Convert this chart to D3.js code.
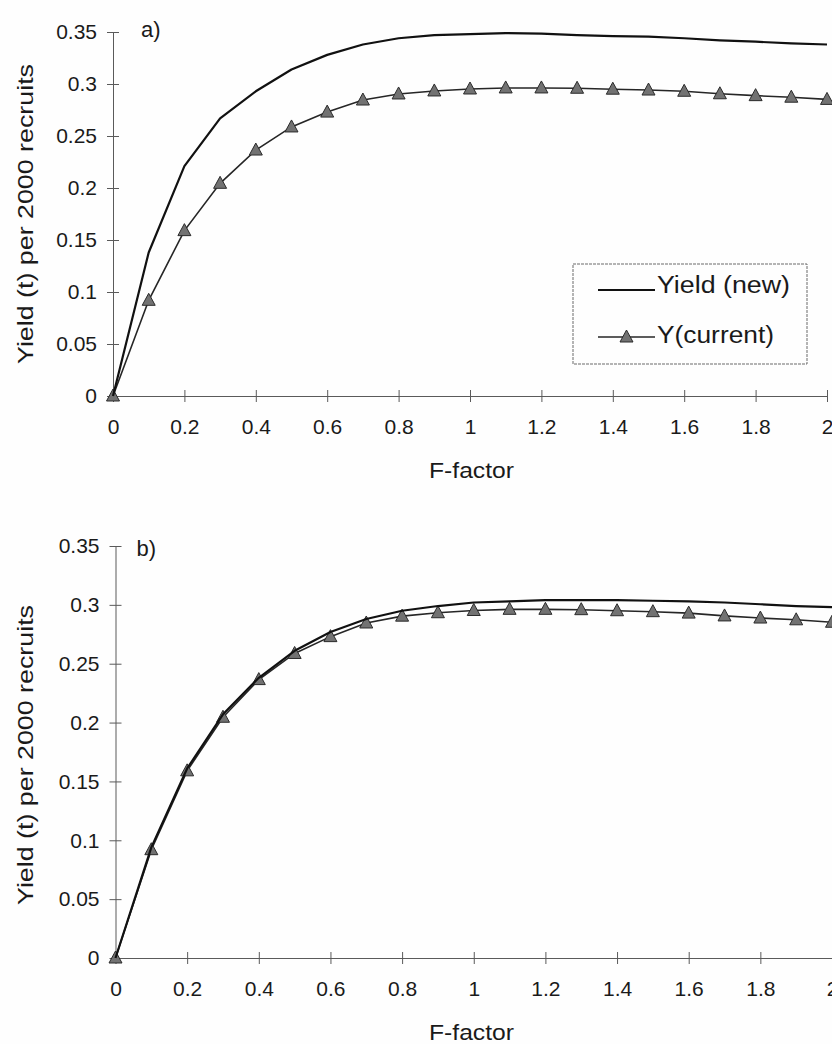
<!DOCTYPE html>
<html>
<head>
<meta charset="utf-8">
<script src="https://cdn.jsdelivr.net/npm/d3@7"></script>
<style>
  html, body { margin: 0; padding: 0; background: #fff; }
  svg { display: block; }
  text { font-family: "Liberation Sans", Arial, Helvetica, sans-serif; fill: #1a1a1a; }
</style>
</head>
<body>
<div id="chart"></div>
<script>
// F-factor values (0 to 2 in steps of 0.1)
const fFactor = [0, 0.1, 0.2, 0.3, 0.4, 0.5, 0.6, 0.7, 0.8, 0.9, 1.0,
                 1.1, 1.2, 1.3, 1.4, 1.5, 1.6, 1.7, 1.8, 1.9, 2.0];

// Yield (t) per 2000 recruits, current exploitation pattern
const yieldCurrent = [0, 0.092, 0.159, 0.2045, 0.2365, 0.2587, 0.273, 0.2846, 0.2904, 0.2933, 0.2952,
                      0.2962, 0.2962, 0.2959, 0.295, 0.2942, 0.293, 0.2906, 0.2888, 0.2873, 0.2852];

// Yield (t) per 2000 recruits, new exploitation pattern, panel a)
const yieldNewA = [0, 0.138, 0.221, 0.267, 0.293, 0.314, 0.328, 0.338, 0.344, 0.347, 0.348,
                   0.349, 0.3485, 0.347, 0.346, 0.3455, 0.344, 0.342, 0.3407, 0.339, 0.338];

// Yield (t) per 2000 recruits, new exploitation pattern, panel b)
const yieldNewB = [0, 0.094, 0.161, 0.207, 0.238, 0.261, 0.277, 0.288, 0.295, 0.299, 0.302,
                   0.303, 0.304, 0.304, 0.304, 0.3035, 0.303, 0.302, 0.3005, 0.299, 0.298];

const yTicks = [0, 0.05, 0.1, 0.15, 0.2, 0.25, 0.3, 0.35];
const xTicks = [0, 0.2, 0.4, 0.6, 0.8, 1, 1.2, 1.4, 1.6, 1.8, 2];

const panelLabels = ["a)", "b)"];
const legendLabels = ["Yield (new)", "Y(current)"];
const xTitle = "F-factor";
const yTitle = "Yield (t) per 2000 recruits";

const W = 832, H = 1044;
const svg = d3.select("#chart").append("svg").attr("width", W).attr("height", H);
svg.append("rect").attr("width", W).attr("height", H).attr("fill", "#fefefe");

const fmt = d => String(+d.toFixed(2));
const axisColor = "#5a5a5a";

// triangle marker centred on the data point
const tri = "M0,-7L6.5,5L-6.5,5Z";

const panels = [
  { newYield: yieldNewA, label: panelLabels[0], x0: 113, x1: 827, yBottom: 396, yTop: 32,
    titleY: 214, xTitleY: 478, labelPos: [141, 37], legend: true },
  { newYield: yieldNewB, label: panelLabels[1], x0: 115.5, x1: 832, yBottom: 958, yTop: 546,
    titleY: 755, xTitleY: 1040, labelPos: [136.5, 556], legend: false }
];

panels.forEach(p => {
  const x = d3.scaleLinear().domain([0, 2]).range([p.x0, p.x1]);
  const y = d3.scaleLinear().domain([0, 0.35]).range([p.yBottom, p.yTop]);
  const g = svg.append("g");

  // y axis with crossing ticks
  const ya = g.append("g").attr("transform", `translate(${p.x0},0)`)
    .call(d3.axisLeft(y).tickValues(yTicks).tickFormat(fmt)
      .tickSizeInner(6).tickSizeOuter(0).tickPadding(10));
  ya.selectAll(".tick line").attr("x1", 6);

  // x axis with crossing ticks
  const xa = g.append("g").attr("transform", `translate(0,${p.yBottom})`)
    .call(d3.axisBottom(x).tickValues(xTicks).tickFormat(fmt)
      .tickSizeInner(6).tickSizeOuter(0).tickPadding(17));
  xa.selectAll(".tick line").attr("y1", -6);

  [ya, xa].forEach(a => {
    a.select(".domain").attr("stroke", axisColor).attr("stroke-width", 1);
    a.selectAll(".tick line").attr("stroke", axisColor).attr("stroke-width", 1);
    a.selectAll(".tick text").attr("font-size", 21)
      .attr("font-family", "'Liberation Sans', Arial, sans-serif").attr("fill", "#1a1a1a");
  });

  // axis titles
  g.append("text")
    .attr("transform", `translate(33,${p.titleY}) rotate(-90)`)
    .attr("text-anchor", "middle").attr("font-size", 22)
    .attr("textLength", 300).attr("lengthAdjust", "spacingAndGlyphs")
    .text(yTitle);
  g.append("text")
    .attr("x", 429).attr("y", p.xTitleY).attr("font-size", 22)
    .attr("textLength", 85).attr("lengthAdjust", "spacingAndGlyphs")
    .text(xTitle);

  // panel label
  g.append("text").attr("x", p.labelPos[0]).attr("y", p.labelPos[1])
    .attr("font-size", 22).text(p.label);

  const line = d3.line().x((d, i) => x(fFactor[i])).y(d => y(d));

  // current-pattern series: line plus triangle markers
  g.append("path").datum(yieldCurrent).attr("d", line)
    .attr("fill", "none").attr("stroke", "#262626").attr("stroke-width", 1.6);
  g.selectAll(".mk").data(yieldCurrent).join("path").attr("class", "mk")
    .attr("transform", (d, i) => `translate(${x(fFactor[i])},${y(d)})`)
    .attr("d", tri).attr("fill", "#727272").attr("stroke", "#2b2b2b").attr("stroke-width", 1);

  // new-pattern series: plain line
  g.append("path").datum(p.newYield).attr("d", line)
    .attr("fill", "none").attr("stroke", "#111").attr("stroke-width", 2.2)
    .attr("stroke-linejoin", "round");

  if (p.legend) {
    const lg = g.append("g");
    lg.append("rect").attr("x", 573).attr("y", 264).attr("width", 234).attr("height", 100)
      .attr("fill", "#fefefe").attr("stroke", "#6a6a6a").attr("stroke-width", 1)
      .attr("stroke-dasharray", "3,1");
    lg.append("line").attr("x1", 598).attr("x2", 655).attr("y1", 290).attr("y2", 290)
      .attr("stroke", "#111").attr("stroke-width", 2.2);
    lg.append("text").attr("x", 657).attr("y", 293).attr("font-size", 23)
      .attr("textLength", 133).attr("lengthAdjust", "spacingAndGlyphs").text(legendLabels[0]);
    lg.append("line").attr("x1", 598).attr("x2", 655).attr("y1", 337).attr("y2", 337)
      .attr("stroke", "#262626").attr("stroke-width", 1.6);
    lg.append("path").attr("transform", "translate(626.5,337)").attr("d", tri)
      .attr("fill", "#727272").attr("stroke", "#2b2b2b").attr("stroke-width", 1);
    lg.append("text").attr("x", 657).attr("y", 343).attr("font-size", 23)
      .attr("textLength", 117).attr("lengthAdjust", "spacingAndGlyphs").text(legendLabels[1]);
  }
});
</script>
</body>
</html>
